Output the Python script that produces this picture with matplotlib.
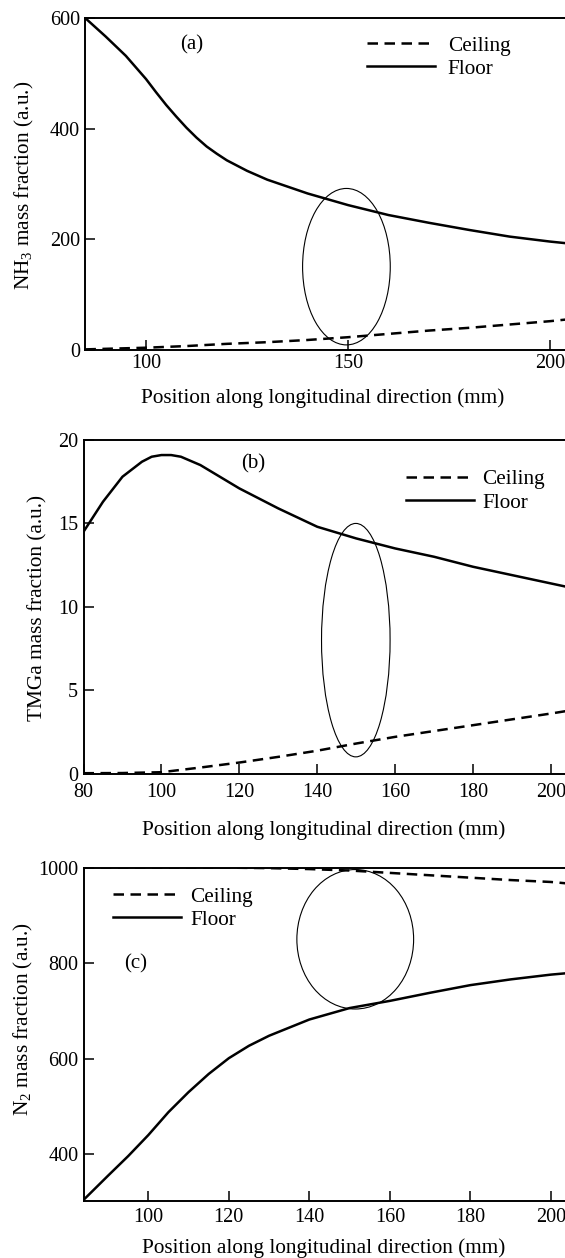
import matplotlib
matplotlib.use('Agg')
import matplotlib.pyplot as plt
from matplotlib.patches import Ellipse

plt.rcParams['font.family'] = ['Liberation Serif', 'DejaVu Serif']
plt.rcParams['mathtext.fontset'] = 'custom'
plt.rcParams['mathtext.rm'] = 'Liberation Serif'
plt.rcParams['mathtext.it'] = 'Liberation Serif:italic'

# ---------------- data ----------------
# (a) NH3
floor_a_x = [85, 90, 95, 100, 102.5, 105, 107.5, 110, 112.5, 115, 117.5, 120, 125, 130, 140, 150, 160, 170, 180, 190, 200, 204]
floor_a_y = [600, 567, 532, 490, 466, 443, 422, 402, 384, 368, 355, 343, 324, 308, 283, 262, 244, 230, 217, 205, 196, 193]
ceil_a_x = [85, 90, 100, 110, 120, 130, 140, 150, 160, 170, 180, 190, 200, 204]
ceil_a_y = [1, 2, 4, 7, 11, 14, 18, 23, 29, 35, 40, 46, 52, 55]

# (b) TMGa
floor_b_x = [80, 85, 90, 95, 97.5, 100, 102.5, 105, 110, 115, 120, 130, 140, 150, 160, 170, 180, 190, 200, 204]
floor_b_y = [14.5, 16.3, 17.8, 18.7, 19.0, 19.1, 19.1, 19.0, 18.5, 17.8, 17.1, 15.9, 14.8, 14.1, 13.5, 13.0, 12.4, 11.9, 11.4, 11.2]
ceil_b_x = [80, 90, 100, 105, 110, 120, 130, 140, 150, 160, 170, 180, 190, 200, 204]
ceil_b_y = [0.02, 0.03, 0.08, 0.22, 0.36, 0.66, 1.0, 1.37, 1.8, 2.2, 2.55, 2.9, 3.25, 3.6, 3.75]

# (c) N2
floor_c_x = [84, 90, 95, 100, 105, 110, 115, 120, 125, 130, 140, 150, 160, 170, 180, 190, 200, 204]
floor_c_y = [305, 355, 396, 440, 488, 530, 568, 601, 627, 648, 682, 706, 721, 738, 754, 766, 776, 779]
ceil_c_x = [84, 120, 130, 140, 150, 160, 170, 180, 190, 200, 204]
ceil_c_y = [1000, 1000, 999, 997, 994, 989, 984, 979, 974, 970, 967]

xticks_a = [100, 150, 200]
yticks_a = [0, 200, 400, 600]
xticks_b = [80, 100, 120, 140, 160, 180, 200]
yticks_b = [0, 5, 10, 15, 20]
xticks_c = [100, 120, 140, 160, 180, 200]
yticks_c = [400, 600, 800, 1000]

series_labels = ['Ceiling', 'Floor']
panel_tags = ['(a)', '(b)', '(c)']
ylabels = ['NH$_3$ mass fraction (a.u.)', 'TMGa mass fraction (a.u.)', 'N$_2$ mass fraction (a.u.)']
xlabel = 'Position along longitudinal direction (mm)'

# ellipse annotations (center x, center y, width, height)
ellipse_a = (149.6, 150.6, 21.7, 283)
ellipse_b = (149.9, 8.0, 17.6, 14.0)
ellipse_c = (151.4, 850, 29, 292)

# ---------------- figure ----------------
fig = plt.figure(figsize=(5.65, 12.58), dpi=100)

specs = [
    dict(pos=[0.1512, 0.7214, 0.8488, 0.2641], xlim=(85, 203.7), ylim=(-1, 600),
         xt=xticks_a, yt=yticks_a, fx=floor_a_x, fy=floor_a_y, cx=ceil_a_x, cy=ceil_a_y,
         ell=ellipse_a, leg=(0.588, 0.883), hpad=0.58, tag=(0.222, 0.919),
         ylc=(-0.104, 0.497), xlc=(0.494, -0.113), xpad=2.5),
    dict(pos=[0.1478, 0.3851, 0.8522, 0.2651], xlim=(80, 203.6), ylim=(0, 20),
         xt=xticks_b, yt=yticks_b, fx=floor_b_x, fy=floor_b_y, cx=ceil_b_x, cy=ceil_b_y,
         ell=ellipse_b, leg=(0.669, 0.847), hpad=0.42, tag=(0.352, 0.930),
         ylc=(-0.074, 0.497), xlc=(0.498, -0.139), xpad=6.5),
    dict(pos=[0.1492, 0.0457, 0.8508, 0.2646], xlim=(84.1, 203.5), ylim=(303, 1000),
         xt=xticks_c, yt=yticks_c, fx=floor_c_x, fy=floor_c_y, cx=ceil_c_x, cy=ceil_c_y,
         ell=ellipse_c, leg=(0.059, 0.878), hpad=0.46, tag=(0.107, 0.711),
         ylc=(-0.102, 0.544), xlc=(0.497, -0.113), xpad=5.5),
]

for i, s in enumerate(specs):
    ax = fig.add_axes(s['pos'])
    lc, = ax.plot(s['cx'], s['cy'], color='black', lw=1.8, linestyle=(0, (4.2, 2.6)),
                  label=series_labels[0])
    lf, = ax.plot(s['fx'], s['fy'], color='black', lw=1.8, label=series_labels[1])
    cx, cy, w, h = s['ell']
    ax.add_patch(Ellipse((cx, cy), w, h, fill=False, edgecolor='black', lw=0.8))
    ax.set_xlim(*s['xlim'])
    ax.set_ylim(*s['ylim'])
    ax.set_xticks(s['xt'])
    ax.set_yticks(s['yt'])
    ax.tick_params(direction='in', length=7, width=1.1, labelsize=14.5)
    ax.tick_params(axis='x', pad=s['xpad'])
    ax.tick_params(axis='y', pad=4)
    for sp in ['left', 'bottom', 'top']:
        ax.spines[sp].set_linewidth(1.4)
    ax.spines['right'].set_visible(False)
    ax.set_ylabel(ylabels[i], fontsize=15.3)
    ax.yaxis.set_label_coords(*s['ylc'])
    ax.set_xlabel(xlabel, fontsize=15.3)
    ax.xaxis.set_label_coords(*s['xlc'])
    ax.legend(handles=[lc, lf], loc='center left', bbox_to_anchor=s['leg'],
              frameon=False, fontsize=15.3, borderpad=0, borderaxespad=0,
              handlelength=3.2, handletextpad=s['hpad'], labelspacing=0.15)
    ax.text(s['tag'][0], s['tag'][1], panel_tags[i], transform=ax.transAxes,
            ha='center', va='center', fontsize=15)

fig.savefig('out.png', dpi=100)
